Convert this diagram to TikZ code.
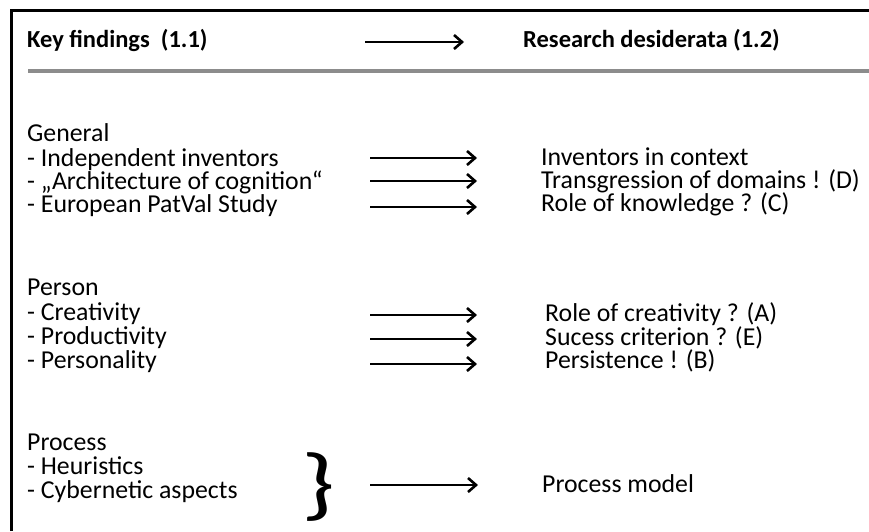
\documentclass[tikz,border=0pt]{standalone}
\usepackage{fontspec}
\setmainfont{Carlito}
\usetikzlibrary{arrows.meta}
\begin{document}
\begin{tikzpicture}[x=1pt,y=-1pt,
  txt/.style={anchor=base west,inner sep=0pt,font=\fontsize{25.8}{26}\selectfont},
  headtxt/.style={anchor=base west,inner sep=0pt,font=\fontsize{24.5}{26}\selectfont\bfseries},
  link/.style={line width=1.8pt,-{Straight Barb[length=8pt,width=14pt,line width=2.6pt]}},
]
\useasboundingbox (0,0) rectangle (869,531);
% open frame along top and left
\draw[line width=3pt] (11,531) -- (11,10) -- (869,10);
% header
\node[headtxt] (hl) at (27,47) {Key findings\ \ (1.1)};
\node[headtxt] (hr) at (523,47) {Research desiderata (1.2)};
\coordinate (ha) at (365,42);
\coordinate (hb) at (464,42);
\draw[link] (ha) -- (hb);
% separator rule
\draw[line width=3.5pt,color={rgb,255:red,140;green,140;blue,140}] (28,71) -- (869,71);

% General
\node[txt] (gen) at (27,141) {General};
\node[txt] (g1) at (27,166) {- Independent inventors};
\node[txt] (g2) at (27,189) {- „Architecture of cognition“};
\node[txt] (g3) at (27,212) {- European PatVal Study};
\node[txt] (r1) at (541,165) {Inventors in context};
\node[txt] (r2) at (541,188) {Transgression of domains ! (D)};
\node[txt] (r3) at (541,211) {Role of knowledge ? (C)};
\coordinate (a1s) at (370,158); \coordinate (a1e) at (477,158);
\coordinate (a2s) at (370,181); \coordinate (a2e) at (477,181);
\coordinate (a3s) at (370,207); \coordinate (a3e) at (477,207);
\draw[link] (a1s) -- (a1e);
\draw[link] (a2s) -- (a2e);
\draw[link] (a3s) -- (a3e);

% Person
\node[txt] (per) at (27,295) {Person};
\node[txt] (p1) at (27,320) {- Creativity};
\node[txt] (p2) at (27,344) {- Productivity};
\node[txt] (p3) at (27,368) {- Personality};
\node[txt] (r4) at (545,321) {Role of creativity ? (A)};
\node[txt] (r5) at (545,345) {Sucess criterion ? (E)};
\node[txt] (r6) at (545,368) {Persistence ! (B)};
\coordinate (a4s) at (370,315); \coordinate (a4e) at (477,315);
\coordinate (a5s) at (370,339); \coordinate (a5e) at (477,339);
\coordinate (a6s) at (370,364); \coordinate (a6e) at (477,364);
\draw[link] (a4s) -- (a4e);
\draw[link] (a5s) -- (a5e);
\draw[link] (a6s) -- (a6e);

% Process
\node[txt] (pro) at (27,450) {Process};
\node[txt] (q1) at (27,474) {- Heuristics};
\node[txt] (q2) at (27,498) {- Cybernetic aspects};
\node[inner sep=0pt,xscale=1.35,font=\fontsize{80}{80}\selectfont] (br) at (318.5,487.5) {\}};
\node[txt] (r7) at (542,492) {Process model};
\coordinate (a7s) at (370,485); \coordinate (a7e) at (478,485);
\draw[link] (a7s) -- (a7e);
\end{tikzpicture}
\end{document}
